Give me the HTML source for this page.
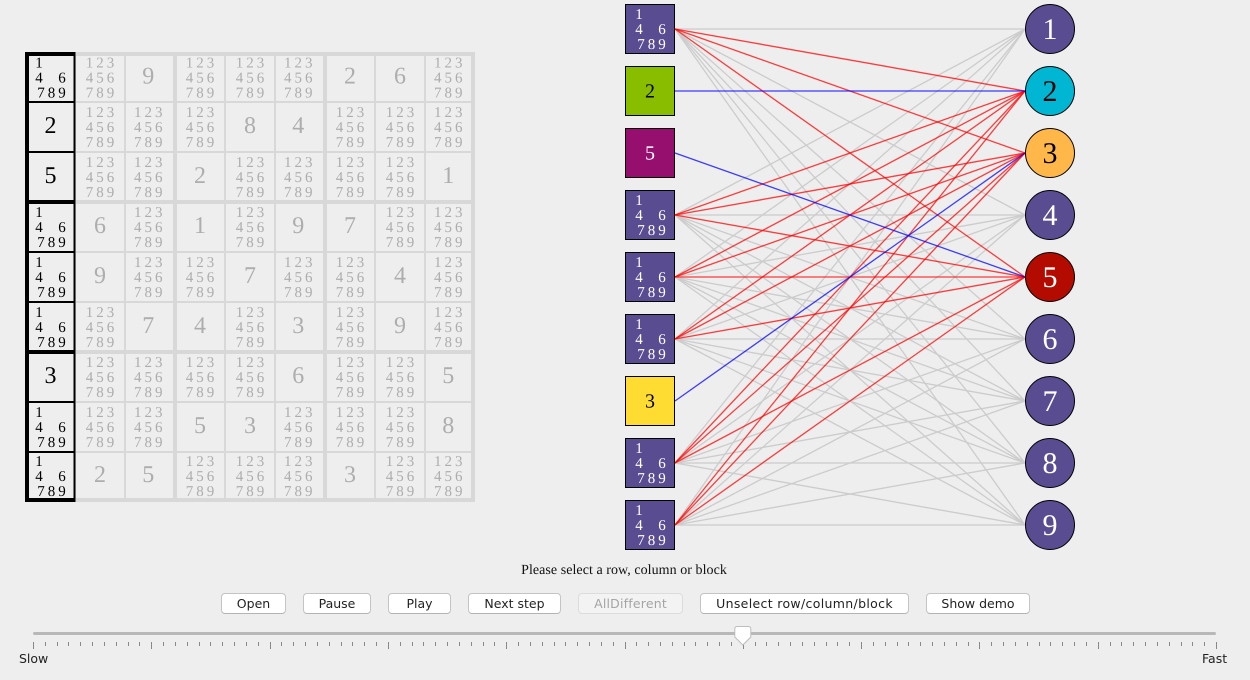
<!DOCTYPE html>
<html lang="en">
<head>
<meta charset="utf-8">
<title>AllDifferent Sudoku demo</title>
<style>
html,body{margin:0;padding:0;background:#eeeeee;width:1250px;height:680px;overflow:hidden}
#stage{position:absolute;left:0;top:0;width:1250px;height:680px;text-rendering:geometricPrecision}
button{position:absolute;top:593px;height:21px;box-sizing:border-box;margin:0;padding:0;background:#fff;border:1px solid #c4c4c4;border-bottom-color:#b4b4b4;border-radius:4px;font:12.5px "DejaVu Sans","Liberation Sans",sans-serif;color:#222;text-align:center;line-height:18px;white-space:nowrap}
button[disabled]{background:#f3f3f3;color:#a4a4a4;border-color:#dcdcdc}
.lbl{position:absolute;font:12.5px "DejaVu Sans","Liberation Sans",sans-serif;color:#222;white-space:nowrap}
#status{position:absolute;left:424px;top:563px;width:400px;text-align:center;font:14px "Liberation Serif",serif;color:#111;white-space:nowrap;text-rendering:geometricPrecision;letter-spacing:.05px}
</style>
</head>
<body>
<svg id="stage" xmlns="http://www.w3.org/2000/svg" width="1250" height="680" viewBox="0 0 1250 680"></svg>
<div id="status">Please select a row, column or block</div>
<button style="left:221px;width:65px">Open</button>
<button style="left:303px;width:68px">Pause</button>
<button style="left:388px;width:63px">Play</button>
<button style="left:468px;width:93px">Next step</button>
<button style="left:578px;width:105px;letter-spacing:.2px" disabled>AllDifferent</button>
<button style="left:700px;width:209px;letter-spacing:.33px">Unselect row/column/block</button>
<button style="left:926px;width:104px">Show demo</button>
<div class="lbl" style="left:19px;top:651px">Slow</div>
<div class="lbl" style="left:1202px;top:651px">Fast</div>
<script>
// Sudoku board, row by row (0 = unsolved cell)
const board = [
  [0,0,9,0,0,0,2,6,0],
  [2,0,0,0,8,4,0,0,0],
  [5,0,0,2,0,0,0,0,1],
  [0,6,0,1,0,9,7,0,0],
  [0,9,0,0,7,0,0,4,0],
  [0,0,7,4,0,3,0,9,0],
  [3,0,0,0,0,6,0,0,5],
  [0,0,0,5,3,0,0,0,8],
  [0,2,5,0,0,0,3,0,0]
];
// Domain of the selected column's unsolved cells
const selectedDomain = [1,4,6,7,8,9];
// Values removed from those domains (red edges)
const conflictValues = [2,3,5];
// Value nodes on the right
const valueNodes = [1,2,3,4,5,6,7,8,9];
// Selected column (left node list) values, 0 = unsolved
const selectedColumn = [0,2,5,0,0,0,3,0,0];
// Node fills per assigned value
const valueColours = ["#5a4c91","#00b6d3","#ffb74a","#5a4c91","#b30b00","#5a4c91","#5a4c91","#5a4c91","#5a4c91"];
const variableColours = {0:"#5a4c91",2:"#88bd00",5:"#960f6e",3:"#ffdc32"};
const lightTextValues = [1,4,5,6,7,8,9];
// Slider
const sliderMin = 0;
const sliderMax = 100;
const sliderValue = 60;
const majorEvery = 10;

const NS = "http://www.w3.org/2000/svg";
const svg = document.getElementById("stage");
function make(tag, attrs, text){
  const e = document.createElementNS(NS, tag);
  for (const k in attrs) e.setAttribute(k, attrs[k]);
  if (text !== undefined) e.textContent = text;
  svg.appendChild(e);
  return e;
}
const SERIF = '"Liberation Serif",serif';
const cellX = c => 25 + 50*c;
const cellY = r => 52 + 50*r;
const nodeY = i => 29 + 62*i;
const sliderX = v => 33 + (v - sliderMin)/(sliderMax - sliderMin)*1183;
// Cells against a block line sit slightly off-centre
const colNudge = c => (c === 0 ? 0.5 : (c % 3 === 2 ? -1.7 : 0));
const rowNudge = r => (r === 8 ? -1.2 : (r === 0 ? 0.6 : 0));

// ---------- grid lines ----------
const GRID = "#d8d8d8";
for (let i = 0; i <= 9; i++) {
  const t = (i % 3 === 0) ? 4 : 2;
  const px = i === 0 ? cellX(0) : i === 9 ? cellX(9) - 4 : cellX(i) - t/2;
  const py = i === 0 ? cellY(0) : i === 9 ? cellY(9) - 4 : cellY(i) - t/2;
  const v = make("rect",{x:px,y:52,width:t,height:450,fill:GRID});
  
  
  const h = make("rect",{x:25,y:py,width:450,height:t,fill:GRID});
  
  
}
// selected column outline
for (let i = 0; i <= 9; i++) {
  const t = (i % 3 === 0) ? 4 : 2;
  const py = i === 0 ? cellY(0) : i === 9 ? cellY(9) - 4 : cellY(i) - t/2;
  const h = make("rect",{x:25,y:py,width:50,height:t,fill:"#000"});
  
  
}
const selLeft = make("rect",{x:25,y:52,width:4,height:450,fill:"#000"});


const selRight = make("rect",{x:73.5,y:52,width:2,height:450,fill:"#000"});



// ---------- candidate digit helper ----------
const digitCol = d => (d-1) % 3;
const digitRow = d => Math.floor((d-1)/3);
function candidateOffset(d, sparse){
  if (sparse) {
    if (d === 1 || d === 4) return -11.5;
    if (d === 6 || d === 9) return 11.5;
    if (d === 7) return -9.5;
    return 1;
  }
  return (digitCol(d)-1)*10.5;
}
// ---------- grid cells ----------
for (let r = 0; r < 9; r++) for (let c = 0; c < 9; c++) {
  const cx = cellX(c) + 25 + colNudge(c), cy = cellY(r) + 25 + rowNudge(r);
  const val = board[r][c];
  const ink = c === 0 ? "#000" : "#adadad";
  if (val) {
    const t = make("text",{x:cx,y:cy+6,"text-anchor":"middle","font-family":SERIF,"font-size":24,fill:ink},val);
    
    
  } else {
    const digits = c === 0 ? selectedDomain : valueNodes;
    digits.forEach(d => {
      const t = make("text",{x:cx+candidateOffset(d,c===0),y:cy-10+digitRow(d)*15,"text-anchor":"middle","font-family":SERIF,"font-size":15,fill:ink},d);
      
      
    });
  }
}

// ---------- edges ----------
const EDGE_X0 = 675, EDGE_X1 = 1025;
function edge(i, v, stroke, op){
  return make("line",{x1:EDGE_X0,y1:nodeY(i),x2:EDGE_X1,y2:nodeY(v-1),stroke:stroke,"stroke-width":1.3,"stroke-opacity":op});
}
selectedColumn.forEach((cell,i) => {
  if (!cell) selectedDomain.forEach(v => {
    const l = edge(i,v,"#cccccc",1);
    
    
  });
});
selectedColumn.forEach((cell,i) => {
  if (!cell) conflictValues.forEach(v => {
    const l = edge(i,v,"#ff0000",0.75);
    
    
  });
});
selectedColumn.forEach((cell,i) => {
  if (cell) {
    const l = edge(i,cell,"#0000ff",0.75);
    
    
  }
});

// ---------- variable nodes ----------
selectedColumn.forEach((cell,i) => {
  const y = nodeY(i);
  const box = make("rect",{x:625.5,y:y-24.5,width:49,height:49,fill:variableColours[cell],stroke:"#000","stroke-width":1});
  
  
  if (cell) {
    const t = make("text",{x:650,y:y+6.5,"text-anchor":"middle","font-family":SERIF,"font-size":20,fill:cell===5?"#fff":"#000"},cell);
    
    
  } else {
    selectedDomain.forEach(d => {
      const t = make("text",{x:650.5+candidateOffset(d,true),y:y-10+digitRow(d)*15,"text-anchor":"middle","font-family":SERIF,"font-size":15,fill:"#fff"},d);
      
      
    });
  }
});

// ---------- value nodes ----------
valueNodes.forEach((v,i) => {
  const y = nodeY(i);
  const c = make("circle",{cx:1050,cy:y,r:24.5,fill:valueColours[i],stroke:"#000","stroke-width":1});
  
  
  const t = make("text",{x:1050,y:y+10,"text-anchor":"middle","font-family":SERIF,"font-size":30,fill:lightTextValues.includes(v)?"#fff":"#000"},v);
  
  
});

// ---------- slider ----------
const track = make("rect",{x:sliderX(sliderMin),y:632,width:sliderX(sliderMax)-sliderX(sliderMin),height:3,rx:1.5,fill:"#b8b8b8"});


for (let v = sliderMin; v <= sliderMax; v++) {
  const major = v % majorEvery === 0;
  const x = Math.round(sliderX(v)) + 0.5;
  const tick = make("line",{x1:x,y1:642,x2:x,y2:major?649:646,stroke:"#888888","stroke-width":1});
  
  
}
const tx = sliderX(sliderValue);
const thumb = make("path",{d:`M${tx-8} 629 Q${tx-8} 626.5 ${tx-5.5} 626.5 L${tx+5.5} 626.5 Q${tx+8} 626.5 ${tx+8} 629 L${tx+8} 637 L${tx} 645 L${tx-8} 637 Z`,fill:"#fff",stroke:"#bdbdbd","stroke-width":1});


</script>
</body>
</html>
